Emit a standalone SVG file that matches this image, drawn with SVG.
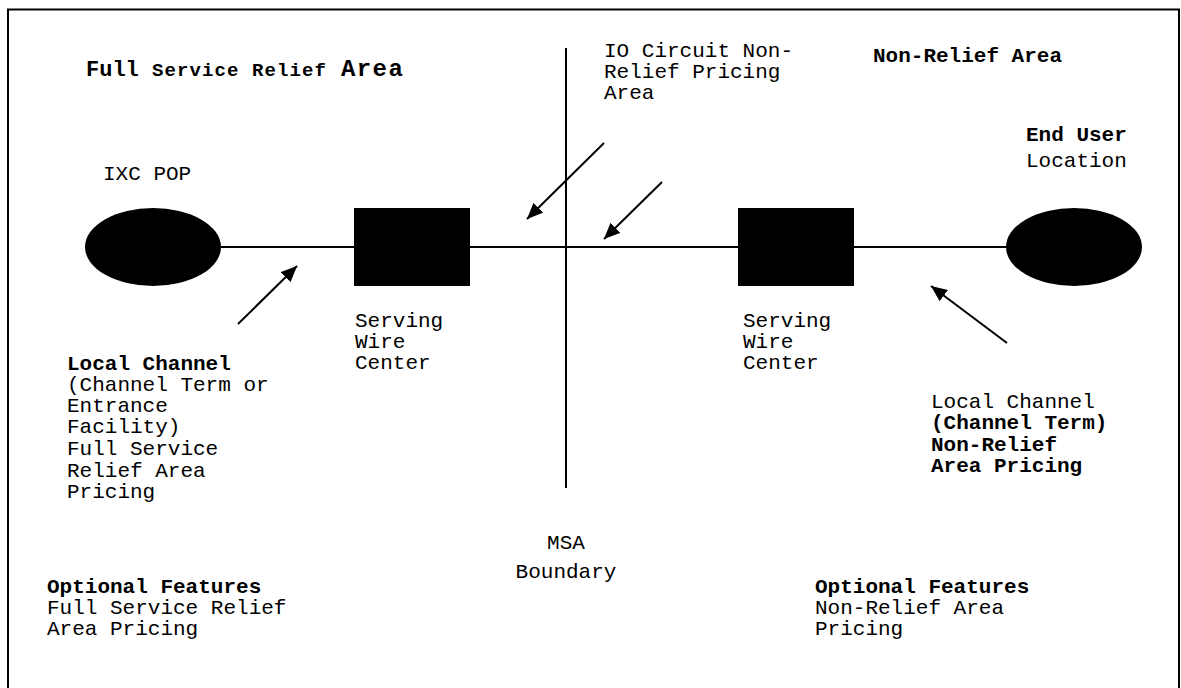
<svg xmlns="http://www.w3.org/2000/svg" width="1181" height="688" viewBox="0 0 1181 688">
<defs>
<marker id="ah" markerUnits="userSpaceOnUse" markerWidth="18" markerHeight="14" refX="16" refY="7" orient="auto">
<path d="M0,0 L16,7 L0,14 Z" fill="#000"/>
</marker>
<style>
text{font-family:"Liberation Mono","Courier New",monospace;font-size:21px;fill:#000}
.b{font-weight:bold}
.ln{stroke:#000;stroke-width:2;fill:none}
.ar{stroke:#000;stroke-width:2;fill:none;marker-end:url(#ah)}
.sh{fill:#000}
</style>
</defs>
<rect width="1181" height="688" fill="#fff"/>
<path class="ln" d="M8,688 L8,9.5 L1179,9.5 L1179,688"/>

<g id="title-left">
<text class="b" y="76"><tspan x="86" font-size="22">Full</tspan><tspan x="152" font-size="19" letter-spacing="1.1">Service Relief</tspan><tspan x="341" font-size="24" letter-spacing="1.4">Area</tspan></text>
</g>
<g id="title-right"><text class="b" x="873" y="62">Non-Relief Area</text></g>
<g id="io-label">
<text x="604" y="57">IO Circuit Non-</text>
<text x="604" y="78">Relief Pricing</text>
<text x="604" y="99">Area</text>
</g>

<g id="connectors">
<line class="ln" x1="221" y1="247" x2="1006" y2="247"/>
<line class="ln" x1="566" y1="48" x2="566" y2="488"/>
<line class="ar" x1="238" y1="324" x2="297" y2="266"/>
<line class="ar" x1="604" y1="143" x2="527" y2="219"/>
<line class="ar" x1="662" y1="182" x2="604" y2="239"/>
<line class="ar" x1="1007" y1="343" x2="931" y2="286"/>
</g>

<g id="ixc-pop">
<ellipse class="sh" cx="153" cy="247" rx="68" ry="39"/>
<text x="103" y="180">IXC POP</text>
</g>
<g id="swc-left">
<rect class="sh" x="354" y="208" width="116" height="78"/>
<text x="355" y="327">Serving</text>
<text x="355" y="348">Wire</text>
<text x="355" y="369">Center</text>
</g>
<g id="swc-right">
<rect class="sh" x="738" y="208" width="116" height="78"/>
<text x="743" y="327">Serving</text>
<text x="743" y="348">Wire</text>
<text x="743" y="369">Center</text>
</g>
<g id="end-user">
<ellipse class="sh" cx="1074" cy="247" rx="68" ry="39"/>
<text class="b" x="1026" y="141">End User</text>
<text x="1026" y="167">Location</text>
</g>

<g id="local-channel-left">
<text class="b" x="67" y="370">Local Channel</text>
<text x="67" y="391">(Channel Term or</text>
<text x="67" y="412">Entrance</text>
<text x="67" y="433">Facility)</text>
<text x="67" y="455">Full Service</text>
<text x="67" y="477">Relief Area</text>
<text x="67" y="498">Pricing</text>
</g>
<g id="local-channel-right">
<text x="931" y="408">Local Channel</text>
<text class="b" x="931" y="429">(Channel Term)</text>
<text class="b" x="931" y="451">Non-Relief</text>
<text class="b" x="931" y="472">Area Pricing</text>
</g>
<g id="msa-label">
<text x="566" y="549" text-anchor="middle">MSA</text>
<text x="566" y="578" text-anchor="middle">Boundary</text>
</g>
<g id="optional-left">
<text class="b" x="47" y="593">Optional Features</text>
<text x="47" y="614">Full Service Relief</text>
<text x="47" y="635">Area Pricing</text>
</g>
<g id="optional-right">
<text class="b" x="815" y="593">Optional Features</text>
<text x="815" y="614">Non-Relief Area</text>
<text x="815" y="635">Pricing</text>
</g>
</svg>
